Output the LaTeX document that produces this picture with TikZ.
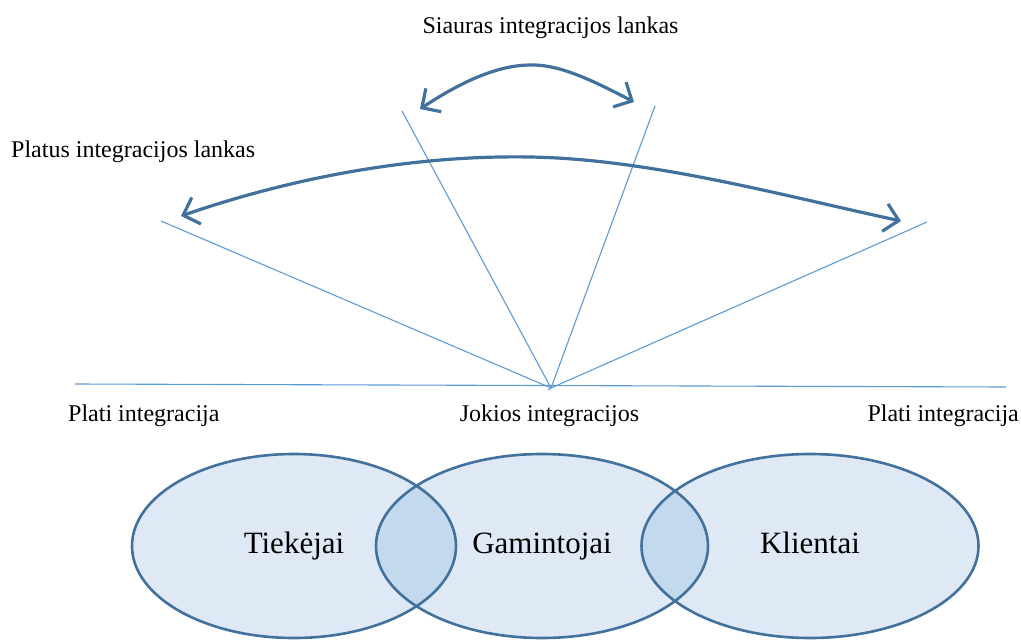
\documentclass[tikz,border=0pt]{standalone}
\usepackage{fontspec}
\setmainfont{Liberation Serif}
\usetikzlibrary{arrows.meta,shapes.geometric}
\definecolor{setfill}{HTML}{DEE9F5}
\definecolor{lensfill}{HTML}{C3D9ED}
\definecolor{setedge}{HTML}{41719C}
\definecolor{fanline}{HTML}{5B9BD5}
\definecolor{arcline}{HTML}{41719C}
\tikzset{
  fanray/.style={draw=fanline, line width=1.1pt},
  arcarrow/.style={draw=arcline, line width=3.2pt, line cap=round,
    {Straight Barb[length=14pt,width=28pt,line width=3.2pt]}-{Straight Barb[length=14pt,width=28pt,line width=3.2pt]}},
  lbl/.style={font=\fontsize{24}{28}\selectfont, inner sep=0pt, anchor=base},
  setnode/.style={ellipse, fill=setfill, inner sep=0pt,
    font=\fontsize{31}{36}\selectfont, text height=21pt, text depth=7pt},
  setedge/.style={draw=setedge, line width=2.6pt},
}
\begin{document}
\begin{tikzpicture}[x=1pt,y=-1pt]
\useasboundingbox (0,0) rectangle (1021,640);

% fan of integration rays
\coordinate (O) at (551,388);
\coordinate (bl) at (75,384);
\coordinate (br) at (1006,387);
\coordinate (wl) at (161,221);
\coordinate (nl) at (402,111);
\coordinate (nr) at (655,106);
\coordinate (wr) at (927,222);
\draw[fanray] (bl) -- (br);
\draw[fanray] (wl) -- (O);
\draw[fanray] (nl) -- (O);
\draw[fanray] (nr) -- (O);
\draw[fanray] (wr) -- (O);
\draw[fanray] (O) -- ++(-3,2);

% arcs
\coordinate (na) at (420,109);
\coordinate (nt) at (535,65);
\coordinate (nb) at (634,102);
\draw[arcarrow] (na) .. controls (470,76) and (505,64) .. (nt)
  .. controls (562,66) and (592,80) .. (nb);
\coordinate (wa) at (181,216);
\coordinate (wt) at (530,157);
\coordinate (wb) at (901,221);
\draw[arcarrow] (wa) .. controls (300,175) and (420,155) .. (wt)
  .. controls (650,159) and (780,195) .. (wb);

% labels
\node[lbl] (narrow) at (550.5,33) {Siauras integracijos lankas};
\node[lbl, anchor=base west] (wide) at (11,157) {Platus integracijos lankas};
\node[lbl, anchor=base west] (leftend) at (68,421) {Plati integracija};
\node[lbl] (none) at (549.5,421) {Jokios integracijos};
\node[lbl, anchor=base east] (rightend) at (1019,421) {Plati integracija};

% value chain sets
\node[setnode, minimum width=324pt, minimum height=184pt] (sup) at (294,546) {Tiekėjai};
\node[setnode, minimum width=332pt, minimum height=184pt] (man) at (542,546) {Gamintojai};
\node[setnode, minimum width=337pt, minimum height=184pt] (cli) at (810,546) {Klientai};

\begin{scope}
  \clip (sup.center) ellipse [x radius=162pt, y radius=92pt];
  \fill[lensfill] (man.center) ellipse [x radius=166pt, y radius=92pt];
\end{scope}
\begin{scope}
  \clip (man.center) ellipse [x radius=166pt, y radius=92pt];
  \fill[lensfill] (cli.center) ellipse [x radius=168.5pt, y radius=92pt];
\end{scope}

\draw[setedge] (sup.center) ellipse [x radius=162pt, y radius=92pt];
\draw[setedge] (man.center) ellipse [x radius=166pt, y radius=92pt];
\draw[setedge] (cli.center) ellipse [x radius=168.5pt, y radius=92pt];
\end{tikzpicture}
\end{document}
